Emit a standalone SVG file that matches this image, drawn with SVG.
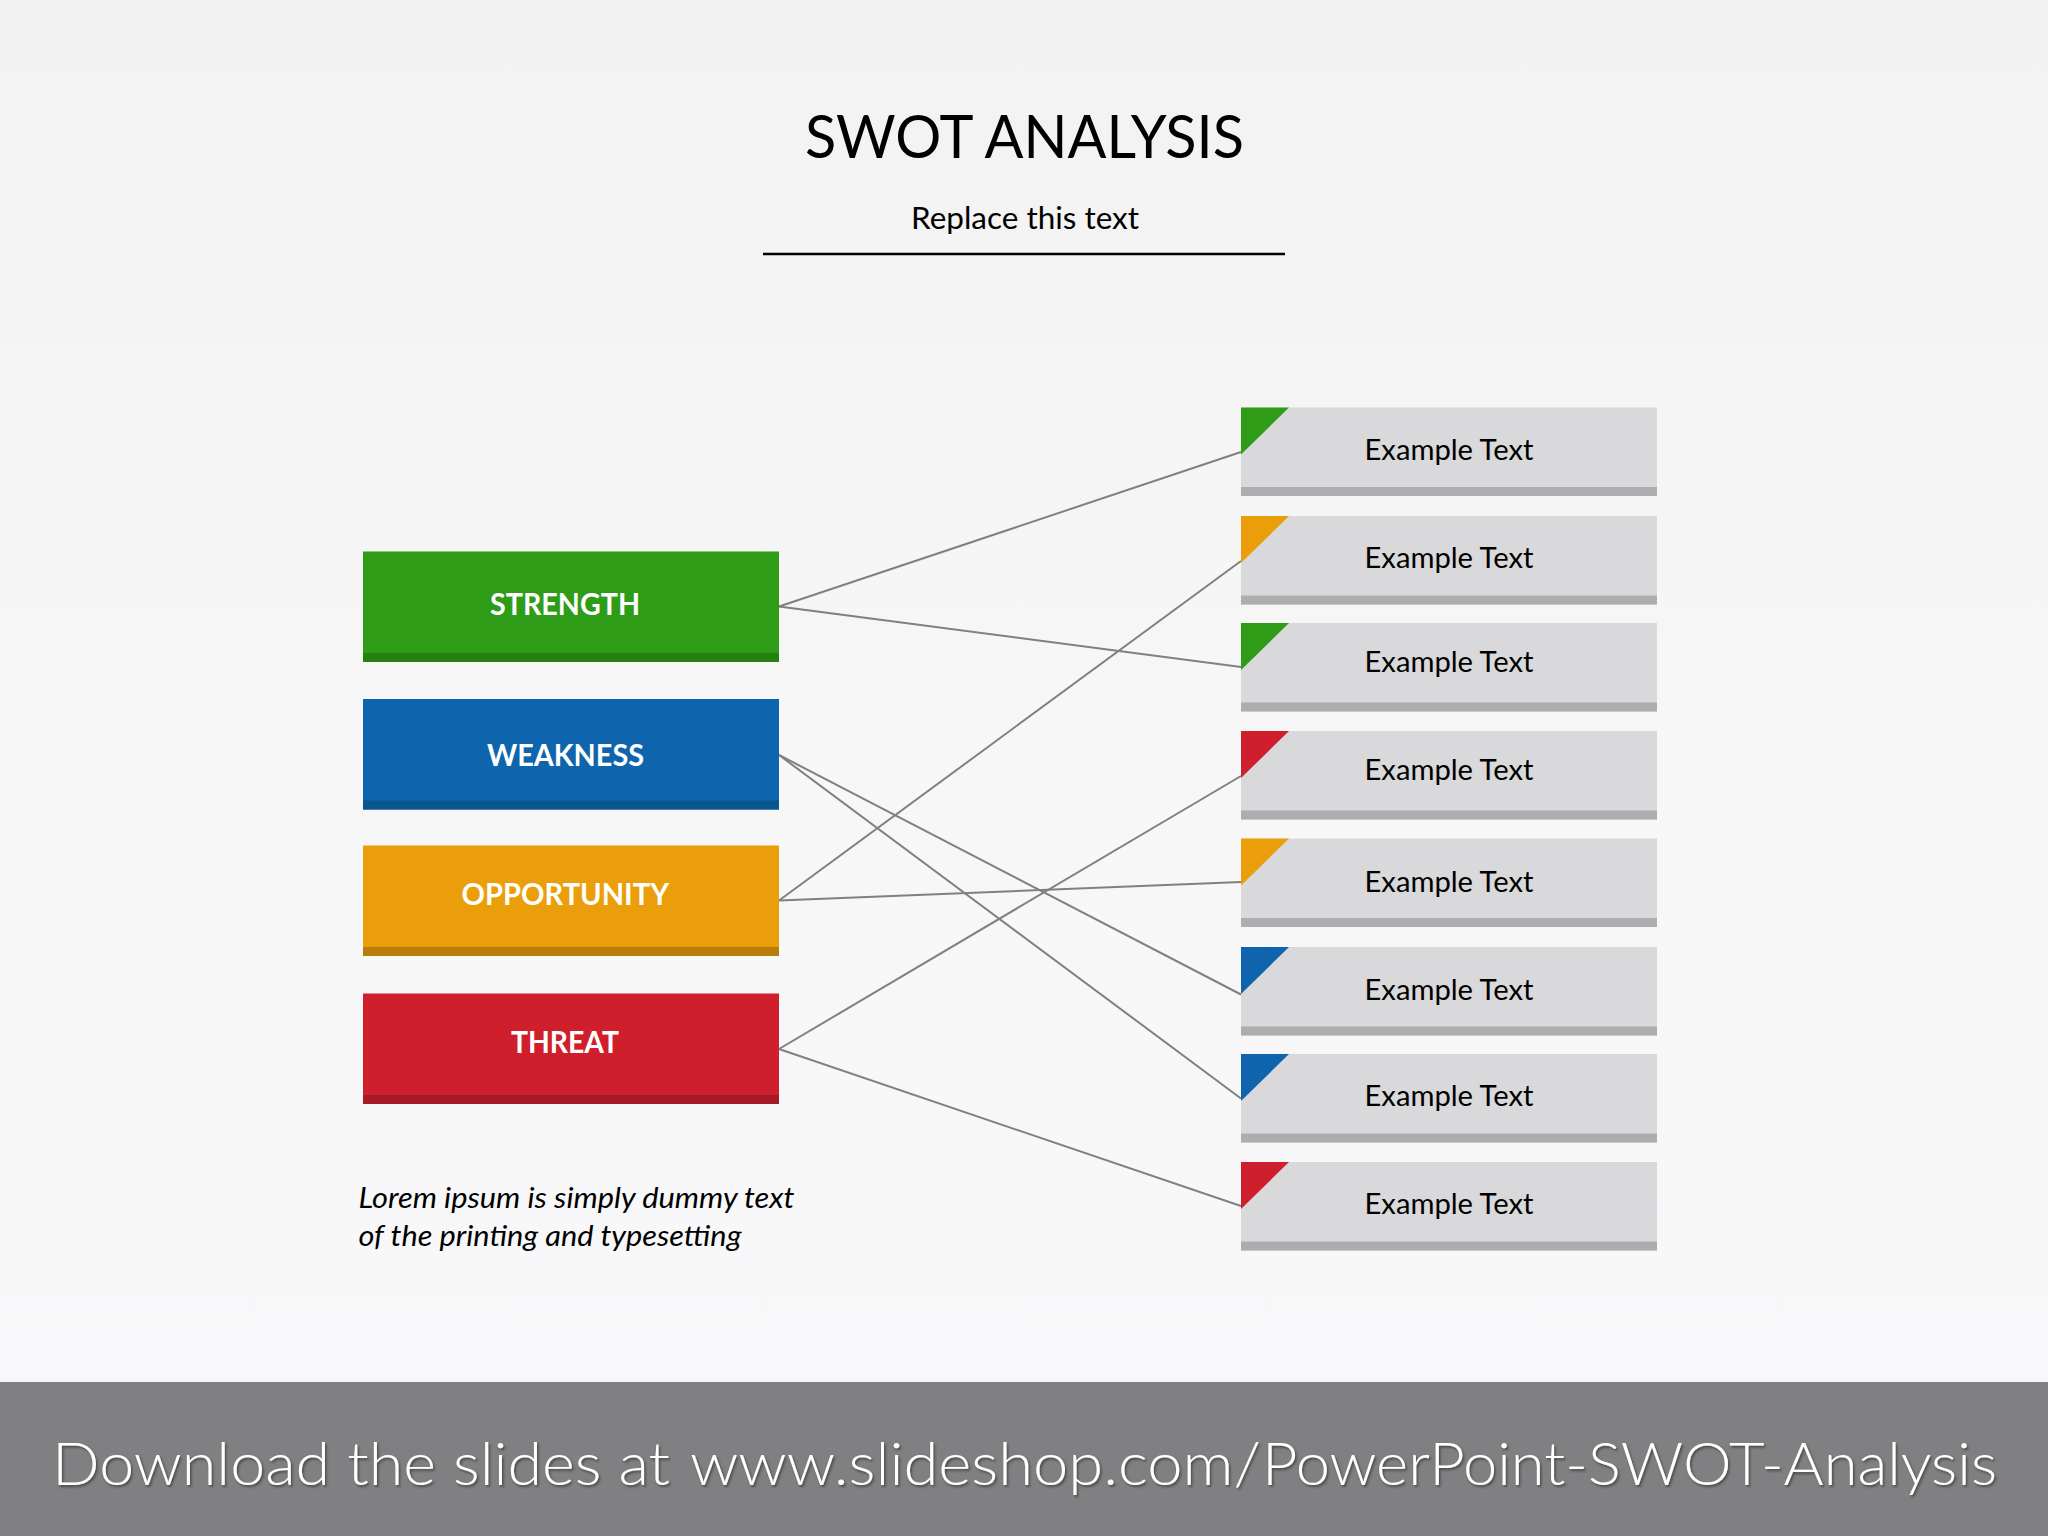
<svg xmlns="http://www.w3.org/2000/svg" width="2048" height="1536" viewBox="0 0 2048 1536">
<style>
text{font-family:"Lato","Open Sans",sans-serif}
.title{font-size:60px;fill:#000}
.sub{font-size:30px;fill:#000}
.lab{font-size:31px;font-weight:700;fill:#fff}
.ex{font-size:29px;fill:#000}
.it{font-size:29px;font-style:italic;fill:#000}
.foot{font-size:60px;font-weight:300;fill:#fff;filter:url(#sh)}
.box{fill:#d9d8da}.bandg{fill:#adacae}
.con line{stroke:#808080;stroke-width:2;fill:none}
</style>
<defs>
<linearGradient id="bg" x1="0" y1="0" x2="0" y2="1"><stop offset="0" stop-color="#f2f2f2"/><stop offset="0.5" stop-color="#f7f7f8"/><stop offset="1" stop-color="#f8f8fa"/></linearGradient>
<filter id="sh" x="-2%" y="-20%" width="104%" height="140%"><feDropShadow dx="1.5" dy="2" stdDeviation="1.2" flood-color="#333" flood-opacity="0.7"/></filter>
</defs>
<rect width="2048" height="1536" fill="url(#bg)"/>
<g id="header">
<text class="title" x="805" y="158" textLength="439" lengthAdjust="spacingAndGlyphs">SWOT ANALYSIS</text>
<text class="sub" x="911" y="229" textLength="228" lengthAdjust="spacingAndGlyphs">Replace this text</text>
<line x1="763" y1="254" x2="1285" y2="254" stroke="#000" stroke-width="2.6"/>
</g>
<g id="connectors" class="con">
<line x1="779" y1="606.500" x2="1241" y2="452"/>
<line x1="779" y1="606.500" x2="1241" y2="667"/>
<line x1="779" y1="755" x2="1241" y2="994.500"/>
<line x1="779" y1="755" x2="1241" y2="1098.500"/>
<line x1="779" y1="900.500" x2="1241" y2="561"/>
<line x1="779" y1="900.500" x2="1241" y2="882"/>
<line x1="779" y1="1049" x2="1241" y2="776"/>
<line x1="779" y1="1049" x2="1241" y2="1206"/>
</g>
<g id="strength"><rect x="363" y="551.500" width="416" height="110.500" fill="#2e9c17"/><rect x="363" y="653" width="416" height="9" fill="#267f11"/><text class="lab" x="490" y="615" textLength="150" lengthAdjust="spacingAndGlyphs">STRENGTH</text></g>
<g id="weakness"><rect x="363" y="699" width="416" height="110.500" fill="#0e65ad"/><rect x="363" y="800.500" width="416" height="9" fill="#0b558f"/><text class="lab" x="487" y="765.500" textLength="157" lengthAdjust="spacingAndGlyphs">WEAKNESS</text></g>
<g id="opportunity"><rect x="363" y="845.500" width="416" height="110.500" fill="#ea9f0a"/><rect x="363" y="947" width="416" height="9" fill="#b87d0c"/><text class="lab" x="461.500" y="905" textLength="207.500" lengthAdjust="spacingAndGlyphs">OPPORTUNITY</text></g>
<g id="threat"><rect x="363" y="993.500" width="416" height="110.500" fill="#cf1f2c"/><rect x="363" y="1095" width="416" height="9" fill="#a51a26"/><text class="lab" x="511" y="1053" textLength="108" lengthAdjust="spacingAndGlyphs">THREAT</text></g>
<g id="note">
<text class="it" x="358.500" y="1208" textLength="436" lengthAdjust="spacingAndGlyphs">Lorem ipsum is simply dummy text</text>
<text class="it" x="358.500" y="1246" textLength="383" lengthAdjust="spacingAndGlyphs">of the printing and typesetting</text>
</g>
<g id="item1"><rect class="box" x="1241" y="407.500" width="416" height="88.500"/><rect class="bandg" x="1241" y="487" width="416" height="9"/><polygon points="1241,407.500 1289,407.500 1241,454.500" fill="#2e9c17"/><text class="ex" x="1364.500" y="459.500" textLength="169" lengthAdjust="spacingAndGlyphs">Example Text</text></g>
<g id="item2"><rect class="box" x="1241" y="516" width="416" height="88.500"/><rect class="bandg" x="1241" y="595.500" width="416" height="9"/><polygon points="1241,516 1289,516 1241,563" fill="#ea9f0a"/><text class="ex" x="1364.500" y="568" textLength="169" lengthAdjust="spacingAndGlyphs">Example Text</text></g>
<g id="item3"><rect class="box" x="1241" y="623" width="416" height="88.500"/><rect class="bandg" x="1241" y="702.500" width="416" height="9"/><polygon points="1241,623 1289,623 1241,670" fill="#2e9c17"/><text class="ex" x="1364.500" y="672" textLength="169" lengthAdjust="spacingAndGlyphs">Example Text</text></g>
<g id="item4"><rect class="box" x="1241" y="731" width="416" height="88.500"/><rect class="bandg" x="1241" y="810.500" width="416" height="9"/><polygon points="1241,731 1289,731 1241,778" fill="#cf1f2c"/><text class="ex" x="1364.500" y="780" textLength="169" lengthAdjust="spacingAndGlyphs">Example Text</text></g>
<g id="item5"><rect class="box" x="1241" y="838.500" width="416" height="88.500"/><rect class="bandg" x="1241" y="918" width="416" height="9"/><polygon points="1241,838.500 1289,838.500 1241,885.500" fill="#ea9f0a"/><text class="ex" x="1364.500" y="892" textLength="169" lengthAdjust="spacingAndGlyphs">Example Text</text></g>
<g id="item6"><rect class="box" x="1241" y="947" width="416" height="88.500"/><rect class="bandg" x="1241" y="1026.500" width="416" height="9"/><polygon points="1241,947 1289,947 1241,994" fill="#0e65ad"/><text class="ex" x="1364.500" y="1000" textLength="169" lengthAdjust="spacingAndGlyphs">Example Text</text></g>
<g id="item7"><rect class="box" x="1241" y="1054" width="416" height="88.500"/><rect class="bandg" x="1241" y="1133.500" width="416" height="9"/><polygon points="1241,1054 1289,1054 1241,1101" fill="#0e65ad"/><text class="ex" x="1364.500" y="1106" textLength="169" lengthAdjust="spacingAndGlyphs">Example Text</text></g>
<g id="item8"><rect class="box" x="1241" y="1162" width="416" height="88.500"/><rect class="bandg" x="1241" y="1241.500" width="416" height="9"/><polygon points="1241,1162 1289,1162 1241,1209" fill="#cf1f2c"/><text class="ex" x="1364.500" y="1214" textLength="169" lengthAdjust="spacingAndGlyphs">Example Text</text></g>
<g id="footer"><rect x="0" y="1382" width="2048" height="154" fill="#807f81"/>
<text class="foot" y="1485"><tspan x="52" textLength="618" lengthAdjust="spacingAndGlyphs">Download the slides at</tspan> <tspan x="690" textLength="571" lengthAdjust="spacingAndGlyphs">www.slideshop.com/</tspan><tspan x="1262" textLength="735" lengthAdjust="spacingAndGlyphs">PowerPoint-SWOT-Analysis</tspan></text></g>
</svg>
